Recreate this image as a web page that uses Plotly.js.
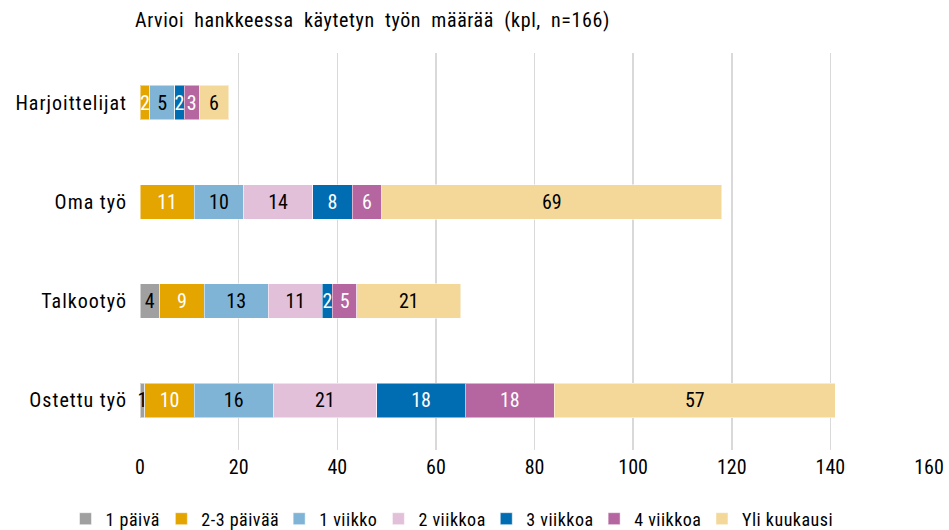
<!DOCTYPE html>
<html>
<head>
<meta charset="utf-8">
<script src="https://cdn.plot.ly/plotly-3.0.1.min.js"></script>
<style>
html,body{margin:0;padding:0;background:#fff;}
#chart{width:949px;height:530px;}
#chart .gtitle{letter-spacing:0.6px;word-spacing:5px;}
#chart .ytick text{letter-spacing:1px;}
#chart .legendtext{letter-spacing:0.5px;}
</style>
</head>
<body>
<div id="chart"></div>
<script>
const categories = ["Harjoittelijat", "Oma työ", "Talkootyö", "Ostettu työ"];
const seriesNames = ["1 päivä", "2-3 päivää", "1 viikko", "2 viikkoa", "3 viikkoa", "4 viikkoa", "Yli kuukausi"];
const v1paiva = [0, 0, 4, 1];
const v23paivaa = [2, 11, 9, 10];
const v1viikko = [5, 10, 13, 16];
const v2viikkoa = [0, 14, 11, 21];
const v3viikkoa = [2, 8, 2, 18];
const v4viikkoa = [3, 6, 5, 18];
const vYliKuukausi = [6, 69, 21, 57];
const xTicks = [0, 20, 40, 60, 80, 100, 120, 140, 160];

const seriesValues = [v1paiva, v23paivaa, v1viikko, v2viikkoa, v3viikkoa, v4viikkoa, vYliKuukausi];
const colors = ["#a0a0a0", "#e5a500", "#7fb4d7", "#e3c0da", "#006cb2", "#b5659f", "#f3d899"];
const textColors = ["#000", "#fff", "#000", "#000", "#fff", "#fff", "#000"];
const FONT = "'Roboto Condensed', 'Liberation Sans Narrow', 'DejaVu Sans Condensed', sans-serif";

const traces = seriesNames.map((name, i) => ({
  type: "bar",
  orientation: "h",
  name: name,
  y: categories,
  x: seriesValues[i],
  text: seriesValues[i].map(v => v > 0 ? String(v) : ""),
  textposition: "inside",
  insidetextanchor: "middle",
  constraintext: "none",
  cliponaxis: false,
  textfont: {family: FONT, size: 20, color: textColors[i]},
  marker: {color: colors[i], line: {color: "rgba(255,255,255,0.5)", width: 1}},
  hoverinfo: "x+name"
}));

const layout = {
  width: 949,
  height: 530,
  barmode: "stack",
  bargap: 0.653,
  margin: {l: 140, r: 20, t: 53, b: 80},
  paper_bgcolor: "#fff",
  plot_bgcolor: "#fff",
  font: {family: FONT, size: 20, color: "#000"},
  uniformtext: {mode: "show", minsize: 20},
  title: {
    text: "Arvioi hankkeessa käytetyn työn määrää (kpl, n=166)",
    font: {family: FONT, size: 20, color: "#000"},
    xref: "container", x: 135 / 949, xanchor: "left",
    yref: "container", y: 1 - 20 / 530, yanchor: "middle"
  },
  xaxis: {
    range: [0, 160],
    tickvals: xTicks,
    ticktext: xTicks.map(String),
    showgrid: true,
    gridcolor: "#d9d9d9",
    gridwidth: 1.5,
    zeroline: false,
    showline: false,
    ticks: "",
    tickfont: {family: FONT, size: 20, color: "#000"},
    ticklabelstandoff: 3,
    fixedrange: true
  },
  yaxis: {
    categoryorder: "array",
    categoryarray: categories,
    autorange: "reversed",
    showgrid: false,
    zeroline: false,
    showline: false,
    ticks: "",
    ticklabelstandoff: 12,
    tickfont: {family: FONT, size: 20, color: "#000"},
    fixedrange: true
  },
  legend: {
    orientation: "h",
    traceorder: "normal",
    xref: "container", x: 449 / 949, xanchor: "center",
    yref: "container", y: 1 - 519 / 530, yanchor: "middle",
    font: {family: FONT, size: 18, color: "#000"},
    itemwidth: 30,
    tracegroupgap: 0
  },
  showlegend: true
};

Plotly.newPlot("chart", traces, layout, {displayModeBar: false, staticPlot: true});
</script>
</body>
</html>
